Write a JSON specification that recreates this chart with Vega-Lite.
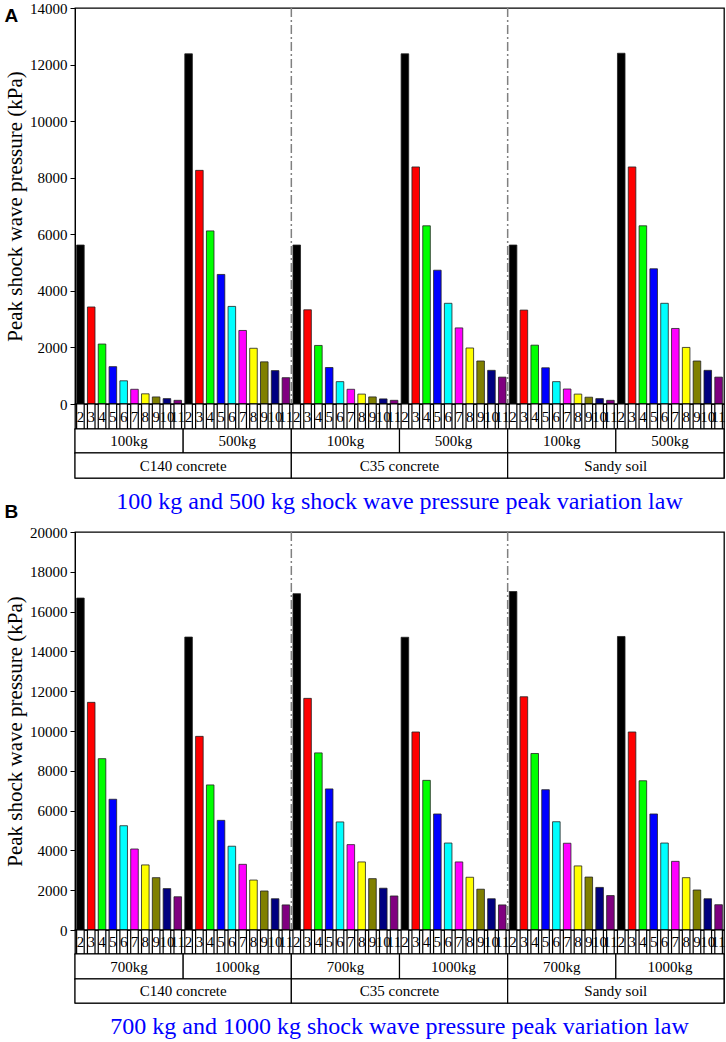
{
  "$schema": "https://vega.github.io/schema/vega-lite/v6.json",
  "padding": {"left": 3, "top": 0, "right": 3, "bottom": 0},
  "bounds": "flush",
  "spacing": 0,
  "config": {
    "font": "Liberation Serif",
    "view": {"stroke": "black", "strokeWidth": 1.3},
    "axis": {"labelFont": "Liberation Serif", "labelFontSize": 15, "labelColor": "black", "titleFont": "Liberation Serif", "titleFontSize": 21, "titleFontWeight": "normal", "titleColor": "black", "domainColor": "black", "tickColor": "black", "tickSize": 5, "grid": false, "labelPadding": 3, "titlePadding": 4, "format": "d"},
    "title": {"font": "Liberation Serif", "fontWeight": "normal", "color": "black"}
  },
  "datasets": {
    "a": [
      {"material":"C140 concrete","charge":"100kg","group":"C140 concrete 100kg","distance":"2","pressure":5620},
      {"material":"C140 concrete","charge":"100kg","group":"C140 concrete 100kg","distance":"3","pressure":3430},
      {"material":"C140 concrete","charge":"100kg","group":"C140 concrete 100kg","distance":"4","pressure":2120},
      {"material":"C140 concrete","charge":"100kg","group":"C140 concrete 100kg","distance":"5","pressure":1320},
      {"material":"C140 concrete","charge":"100kg","group":"C140 concrete 100kg","distance":"6","pressure":820},
      {"material":"C140 concrete","charge":"100kg","group":"C140 concrete 100kg","distance":"7","pressure":520},
      {"material":"C140 concrete","charge":"100kg","group":"C140 concrete 100kg","distance":"8","pressure":360},
      {"material":"C140 concrete","charge":"100kg","group":"C140 concrete 100kg","distance":"9","pressure":250},
      {"material":"C140 concrete","charge":"100kg","group":"C140 concrete 100kg","distance":"10","pressure":190},
      {"material":"C140 concrete","charge":"100kg","group":"C140 concrete 100kg","distance":"11","pressure":130},
      {"material":"C140 concrete","charge":"500kg","group":"C140 concrete 500kg","distance":"2","pressure":12380},
      {"material":"C140 concrete","charge":"500kg","group":"C140 concrete 500kg","distance":"3","pressure":8260},
      {"material":"C140 concrete","charge":"500kg","group":"C140 concrete 500kg","distance":"4","pressure":6120},
      {"material":"C140 concrete","charge":"500kg","group":"C140 concrete 500kg","distance":"5","pressure":4580},
      {"material":"C140 concrete","charge":"500kg","group":"C140 concrete 500kg","distance":"6","pressure":3450},
      {"material":"C140 concrete","charge":"500kg","group":"C140 concrete 500kg","distance":"7","pressure":2600},
      {"material":"C140 concrete","charge":"500kg","group":"C140 concrete 500kg","distance":"8","pressure":1970},
      {"material":"C140 concrete","charge":"500kg","group":"C140 concrete 500kg","distance":"9","pressure":1490},
      {"material":"C140 concrete","charge":"500kg","group":"C140 concrete 500kg","distance":"10","pressure":1180},
      {"material":"C140 concrete","charge":"500kg","group":"C140 concrete 500kg","distance":"11","pressure":930},
      {"material":"C35 concrete","charge":"100kg","group":"C35 concrete 100kg","distance":"2","pressure":5620},
      {"material":"C35 concrete","charge":"100kg","group":"C35 concrete 100kg","distance":"3","pressure":3330},
      {"material":"C35 concrete","charge":"100kg","group":"C35 concrete 100kg","distance":"4","pressure":2070},
      {"material":"C35 concrete","charge":"100kg","group":"C35 concrete 100kg","distance":"5","pressure":1290},
      {"material":"C35 concrete","charge":"100kg","group":"C35 concrete 100kg","distance":"6","pressure":790},
      {"material":"C35 concrete","charge":"100kg","group":"C35 concrete 100kg","distance":"7","pressure":520},
      {"material":"C35 concrete","charge":"100kg","group":"C35 concrete 100kg","distance":"8","pressure":350},
      {"material":"C35 concrete","charge":"100kg","group":"C35 concrete 100kg","distance":"9","pressure":250},
      {"material":"C35 concrete","charge":"100kg","group":"C35 concrete 100kg","distance":"10","pressure":180},
      {"material":"C35 concrete","charge":"100kg","group":"C35 concrete 100kg","distance":"11","pressure":130},
      {"material":"C35 concrete","charge":"500kg","group":"C35 concrete 500kg","distance":"2","pressure":12380},
      {"material":"C35 concrete","charge":"500kg","group":"C35 concrete 500kg","distance":"3","pressure":8380},
      {"material":"C35 concrete","charge":"500kg","group":"C35 concrete 500kg","distance":"4","pressure":6300},
      {"material":"C35 concrete","charge":"500kg","group":"C35 concrete 500kg","distance":"5","pressure":4730},
      {"material":"C35 concrete","charge":"500kg","group":"C35 concrete 500kg","distance":"6","pressure":3560},
      {"material":"C35 concrete","charge":"500kg","group":"C35 concrete 500kg","distance":"7","pressure":2690},
      {"material":"C35 concrete","charge":"500kg","group":"C35 concrete 500kg","distance":"8","pressure":1980},
      {"material":"C35 concrete","charge":"500kg","group":"C35 concrete 500kg","distance":"9","pressure":1520},
      {"material":"C35 concrete","charge":"500kg","group":"C35 concrete 500kg","distance":"10","pressure":1190},
      {"material":"C35 concrete","charge":"500kg","group":"C35 concrete 500kg","distance":"11","pressure":950},
      {"material":"Sandy soil","charge":"100kg","group":"Sandy soil 100kg","distance":"2","pressure":5620},
      {"material":"Sandy soil","charge":"100kg","group":"Sandy soil 100kg","distance":"3","pressure":3320},
      {"material":"Sandy soil","charge":"100kg","group":"Sandy soil 100kg","distance":"4","pressure":2080},
      {"material":"Sandy soil","charge":"100kg","group":"Sandy soil 100kg","distance":"5","pressure":1280},
      {"material":"Sandy soil","charge":"100kg","group":"Sandy soil 100kg","distance":"6","pressure":790},
      {"material":"Sandy soil","charge":"100kg","group":"Sandy soil 100kg","distance":"7","pressure":530},
      {"material":"Sandy soil","charge":"100kg","group":"Sandy soil 100kg","distance":"8","pressure":350},
      {"material":"Sandy soil","charge":"100kg","group":"Sandy soil 100kg","distance":"9","pressure":240},
      {"material":"Sandy soil","charge":"100kg","group":"Sandy soil 100kg","distance":"10","pressure":190},
      {"material":"Sandy soil","charge":"100kg","group":"Sandy soil 100kg","distance":"11","pressure":130},
      {"material":"Sandy soil","charge":"500kg","group":"Sandy soil 500kg","distance":"2","pressure":12400},
      {"material":"Sandy soil","charge":"500kg","group":"Sandy soil 500kg","distance":"3","pressure":8380},
      {"material":"Sandy soil","charge":"500kg","group":"Sandy soil 500kg","distance":"4","pressure":6300},
      {"material":"Sandy soil","charge":"500kg","group":"Sandy soil 500kg","distance":"5","pressure":4780},
      {"material":"Sandy soil","charge":"500kg","group":"Sandy soil 500kg","distance":"6","pressure":3560},
      {"material":"Sandy soil","charge":"500kg","group":"Sandy soil 500kg","distance":"7","pressure":2670},
      {"material":"Sandy soil","charge":"500kg","group":"Sandy soil 500kg","distance":"8","pressure":2000},
      {"material":"Sandy soil","charge":"500kg","group":"Sandy soil 500kg","distance":"9","pressure":1520},
      {"material":"Sandy soil","charge":"500kg","group":"Sandy soil 500kg","distance":"10","pressure":1190},
      {"material":"Sandy soil","charge":"500kg","group":"Sandy soil 500kg","distance":"11","pressure":950}
    ],
    "b": [
      {"material":"C140 concrete","charge":"700kg","group":"C140 concrete 700kg","distance":"2","pressure":16680},
      {"material":"C140 concrete","charge":"700kg","group":"C140 concrete 700kg","distance":"3","pressure":11440},
      {"material":"C140 concrete","charge":"700kg","group":"C140 concrete 700kg","distance":"4","pressure":8610},
      {"material":"C140 concrete","charge":"700kg","group":"C140 concrete 700kg","distance":"5","pressure":6570},
      {"material":"C140 concrete","charge":"700kg","group":"C140 concrete 700kg","distance":"6","pressure":5240},
      {"material":"C140 concrete","charge":"700kg","group":"C140 concrete 700kg","distance":"7","pressure":4070},
      {"material":"C140 concrete","charge":"700kg","group":"C140 concrete 700kg","distance":"8","pressure":3270},
      {"material":"C140 concrete","charge":"700kg","group":"C140 concrete 700kg","distance":"9","pressure":2630},
      {"material":"C140 concrete","charge":"700kg","group":"C140 concrete 700kg","distance":"10","pressure":2080},
      {"material":"C140 concrete","charge":"700kg","group":"C140 concrete 700kg","distance":"11","pressure":1670},
      {"material":"C140 concrete","charge":"1000kg","group":"C140 concrete 1000kg","distance":"2","pressure":14720},
      {"material":"C140 concrete","charge":"1000kg","group":"C140 concrete 1000kg","distance":"3","pressure":9730},
      {"material":"C140 concrete","charge":"1000kg","group":"C140 concrete 1000kg","distance":"4","pressure":7290},
      {"material":"C140 concrete","charge":"1000kg","group":"C140 concrete 1000kg","distance":"5","pressure":5510},
      {"material":"C140 concrete","charge":"1000kg","group":"C140 concrete 1000kg","distance":"6","pressure":4210},
      {"material":"C140 concrete","charge":"1000kg","group":"C140 concrete 1000kg","distance":"7","pressure":3300},
      {"material":"C140 concrete","charge":"1000kg","group":"C140 concrete 1000kg","distance":"8","pressure":2510},
      {"material":"C140 concrete","charge":"1000kg","group":"C140 concrete 1000kg","distance":"9","pressure":1960},
      {"material":"C140 concrete","charge":"1000kg","group":"C140 concrete 1000kg","distance":"10","pressure":1570},
      {"material":"C140 concrete","charge":"1000kg","group":"C140 concrete 1000kg","distance":"11","pressure":1260},
      {"material":"C35 concrete","charge":"700kg","group":"C35 concrete 700kg","distance":"2","pressure":16900},
      {"material":"C35 concrete","charge":"700kg","group":"C35 concrete 700kg","distance":"3","pressure":11640},
      {"material":"C35 concrete","charge":"700kg","group":"C35 concrete 700kg","distance":"4","pressure":8900},
      {"material":"C35 concrete","charge":"700kg","group":"C35 concrete 700kg","distance":"5","pressure":7090},
      {"material":"C35 concrete","charge":"700kg","group":"C35 concrete 700kg","distance":"6","pressure":5430},
      {"material":"C35 concrete","charge":"700kg","group":"C35 concrete 700kg","distance":"7","pressure":4290},
      {"material":"C35 concrete","charge":"700kg","group":"C35 concrete 700kg","distance":"8","pressure":3420},
      {"material":"C35 concrete","charge":"700kg","group":"C35 concrete 700kg","distance":"9","pressure":2580},
      {"material":"C35 concrete","charge":"700kg","group":"C35 concrete 700kg","distance":"10","pressure":2100},
      {"material":"C35 concrete","charge":"700kg","group":"C35 concrete 700kg","distance":"11","pressure":1710},
      {"material":"C35 concrete","charge":"1000kg","group":"C35 concrete 1000kg","distance":"2","pressure":14710},
      {"material":"C35 concrete","charge":"1000kg","group":"C35 concrete 1000kg","distance":"3","pressure":9950},
      {"material":"C35 concrete","charge":"1000kg","group":"C35 concrete 1000kg","distance":"4","pressure":7520},
      {"material":"C35 concrete","charge":"1000kg","group":"C35 concrete 1000kg","distance":"5","pressure":5830},
      {"material":"C35 concrete","charge":"1000kg","group":"C35 concrete 1000kg","distance":"6","pressure":4370},
      {"material":"C35 concrete","charge":"1000kg","group":"C35 concrete 1000kg","distance":"7","pressure":3420},
      {"material":"C35 concrete","charge":"1000kg","group":"C35 concrete 1000kg","distance":"8","pressure":2650},
      {"material":"C35 concrete","charge":"1000kg","group":"C35 concrete 1000kg","distance":"9","pressure":2050},
      {"material":"C35 concrete","charge":"1000kg","group":"C35 concrete 1000kg","distance":"10","pressure":1570},
      {"material":"C35 concrete","charge":"1000kg","group":"C35 concrete 1000kg","distance":"11","pressure":1260},
      {"material":"Sandy soil","charge":"700kg","group":"Sandy soil 700kg","distance":"2","pressure":17010},
      {"material":"Sandy soil","charge":"700kg","group":"Sandy soil 700kg","distance":"3","pressure":11720},
      {"material":"Sandy soil","charge":"700kg","group":"Sandy soil 700kg","distance":"4","pressure":8870},
      {"material":"Sandy soil","charge":"700kg","group":"Sandy soil 700kg","distance":"5","pressure":7050},
      {"material":"Sandy soil","charge":"700kg","group":"Sandy soil 700kg","distance":"6","pressure":5440},
      {"material":"Sandy soil","charge":"700kg","group":"Sandy soil 700kg","distance":"7","pressure":4360},
      {"material":"Sandy soil","charge":"700kg","group":"Sandy soil 700kg","distance":"8","pressure":3220},
      {"material":"Sandy soil","charge":"700kg","group":"Sandy soil 700kg","distance":"9","pressure":2660},
      {"material":"Sandy soil","charge":"700kg","group":"Sandy soil 700kg","distance":"10","pressure":2140},
      {"material":"Sandy soil","charge":"700kg","group":"Sandy soil 700kg","distance":"11","pressure":1730},
      {"material":"Sandy soil","charge":"1000kg","group":"Sandy soil 1000kg","distance":"2","pressure":14750},
      {"material":"Sandy soil","charge":"1000kg","group":"Sandy soil 1000kg","distance":"3","pressure":9950},
      {"material":"Sandy soil","charge":"1000kg","group":"Sandy soil 1000kg","distance":"4","pressure":7500},
      {"material":"Sandy soil","charge":"1000kg","group":"Sandy soil 1000kg","distance":"5","pressure":5830},
      {"material":"Sandy soil","charge":"1000kg","group":"Sandy soil 1000kg","distance":"6","pressure":4370},
      {"material":"Sandy soil","charge":"1000kg","group":"Sandy soil 1000kg","distance":"7","pressure":3450},
      {"material":"Sandy soil","charge":"1000kg","group":"Sandy soil 1000kg","distance":"8","pressure":2630},
      {"material":"Sandy soil","charge":"1000kg","group":"Sandy soil 1000kg","distance":"9","pressure":2010},
      {"material":"Sandy soil","charge":"1000kg","group":"Sandy soil 1000kg","distance":"10","pressure":1570},
      {"material":"Sandy soil","charge":"1000kg","group":"Sandy soil 1000kg","distance":"11","pressure":1270}
    ]
  },
  "resolve": {"scale": {"x": "independent", "y": "independent"}},
  "vconcat": [
    {
      "width": 649, "height": 396,
      "title": {"text": "A", "anchor": "start", "frame": "bounds", "font": "Liberation Sans", "fontSize": 19, "fontWeight": "bold", "offset": -25},
      "data": {"name": "a"},
      "layer": [
        {
          "mark": {"type": "bar", "stroke": "#222222", "strokeWidth": 0.8},
          "encoding": {
            "x": {"field": "group", "type": "nominal", "scale": {"domain": ["C140 concrete 100kg","C140 concrete 500kg","C35 concrete 100kg","C35 concrete 500kg","Sandy soil 100kg","Sandy soil 500kg"], "paddingInner": 0, "paddingOuter": 0}, "axis": null},
            "xOffset": {"field": "distance", "type": "nominal", "scale": {"domain": ["2","3","4","5","6","7","8","9","10","11"], "paddingInner": 0.3, "paddingOuter": 0.15}},
            "y": {"field": "pressure", "type": "quantitative", "scale": {"domain": [0, 14000], "nice": false}, "axis": {"values": [0,2000,4000,6000,8000,10000,12000,14000], "title": "Peak shock wave pressure (kPa)"}},
            "color": {"field": "distance", "type": "nominal", "scale": {"domain": ["2","3","4","5","6","7","8","9","10","11"], "range": ["#000000","#FF0000","#00FF00","#0000FF","#00FFFF","#FF00FF","#FFFF00","#808000","#000080","#800080"]}, "legend": null}
          }
        },
        {
          "transform": [{"filter": "datum.charge == '100kg' && datum.distance == '2' && datum.material != 'C140 concrete'"}],
          "mark": {"type": "rule", "color": "#808080", "strokeDash": [9, 3, 2, 3], "strokeWidth": 1.5},
          "encoding": {"x": {"field": "group", "type": "nominal", "bandPosition": 0}}
        }
      ]
    },
    {
      "width": 649, "height": 25,
      "data": {"name": "a"},
      "encoding": {
        "x": {"field": "group", "type": "nominal", "scale": {"domain": ["C140 concrete 100kg","C140 concrete 500kg","C35 concrete 100kg","C35 concrete 500kg","Sandy soil 100kg","Sandy soil 500kg"], "paddingInner": 0, "paddingOuter": 0}, "axis": null},
        "xOffset": {"field": "distance", "type": "nominal", "scale": {"domain": ["2","3","4","5","6","7","8","9","10","11"], "paddingInner": 0, "paddingOuter": 0}}
      },
      "layer": [
        {"mark": {"type": "bar", "fill": "white", "stroke": "black", "strokeWidth": 1.2}},
        {"mark": {"type": "text", "fontSize": 15, "color": "black", "baseline": "middle"}, "encoding": {"text": {"field": "distance"}}}
      ]
    },
    {
      "width": 649, "height": 24,
      "data": {"name": "a"},
      "transform": [{"aggregate": [{"op": "count", "as": "n"}], "groupby": ["group", "charge"]}],
      "encoding": {
        "x": {"field": "group", "type": "nominal", "scale": {"domain": ["C140 concrete 100kg","C140 concrete 500kg","C35 concrete 100kg","C35 concrete 500kg","Sandy soil 100kg","Sandy soil 500kg"], "paddingInner": 0, "paddingOuter": 0}, "axis": null}
      },
      "layer": [
        {"mark": {"type": "bar", "fill": "white", "stroke": "black", "strokeWidth": 1.2}},
        {"mark": {"type": "text", "fontSize": 15, "color": "black", "baseline": "middle"}, "encoding": {"text": {"field": "charge"}}}
      ]
    },
    {
      "width": 649, "height": 25,
      "title": {"text": "100 kg and 500 kg shock wave pressure peak variation law", "orient": "bottom", "anchor": "middle", "frame": "group", "fontSize": 24, "color": "#0000FF", "offset": 11},
      "data": {"name": "a"},
      "transform": [{"aggregate": [{"op": "count", "as": "n"}], "groupby": ["material"]}],
      "encoding": {
        "x": {"field": "material", "type": "nominal", "scale": {"domain": ["C140 concrete","C35 concrete","Sandy soil"], "paddingInner": 0, "paddingOuter": 0}, "axis": null}
      },
      "layer": [
        {"mark": {"type": "bar", "fill": "white", "stroke": "black", "strokeWidth": 1.2}},
        {"mark": {"type": "text", "fontSize": 15, "color": "black", "baseline": "middle"}, "encoding": {"text": {"field": "material"}}}
      ]
    },
    {
      "width": 649, "height": 54,
      "view": {"stroke": null},
      "data": {"values": []},
      "mark": "point",
      "encoding": {}
    },
    {
      "width": 649, "height": 398,
      "title": {"text": "B", "anchor": "start", "frame": "bounds", "font": "Liberation Sans", "fontSize": 19, "fontWeight": "bold", "offset": 3},
      "data": {"name": "b"},
      "layer": [
        {
          "mark": {"type": "bar", "stroke": "#222222", "strokeWidth": 0.8},
          "encoding": {
            "x": {"field": "group", "type": "nominal", "scale": {"domain": ["C140 concrete 700kg","C140 concrete 1000kg","C35 concrete 700kg","C35 concrete 1000kg","Sandy soil 700kg","Sandy soil 1000kg"], "paddingInner": 0, "paddingOuter": 0}, "axis": null},
            "xOffset": {"field": "distance", "type": "nominal", "scale": {"domain": ["2","3","4","5","6","7","8","9","10","11"], "paddingInner": 0.3, "paddingOuter": 0.15}},
            "y": {"field": "pressure", "type": "quantitative", "scale": {"domain": [0, 20000], "nice": false}, "axis": {"values": [0,2000,4000,6000,8000,10000,12000,14000,16000,18000,20000], "title": "Peak shock wave pressure (kPa)"}},
            "color": {"field": "distance", "type": "nominal", "scale": {"domain": ["2","3","4","5","6","7","8","9","10","11"], "range": ["#000000","#FF0000","#00FF00","#0000FF","#00FFFF","#FF00FF","#FFFF00","#808000","#000080","#800080"]}, "legend": null}
          }
        },
        {
          "transform": [{"filter": "datum.charge == '700kg' && datum.distance == '2' && datum.material != 'C140 concrete'"}],
          "mark": {"type": "rule", "color": "#808080", "strokeDash": [9, 3, 2, 3], "strokeWidth": 1.5},
          "encoding": {"x": {"field": "group", "type": "nominal", "bandPosition": 0}}
        }
      ]
    },
    {
      "width": 649, "height": 24,
      "data": {"name": "b"},
      "encoding": {
        "x": {"field": "group", "type": "nominal", "scale": {"domain": ["C140 concrete 700kg","C140 concrete 1000kg","C35 concrete 700kg","C35 concrete 1000kg","Sandy soil 700kg","Sandy soil 1000kg"], "paddingInner": 0, "paddingOuter": 0}, "axis": null},
        "xOffset": {"field": "distance", "type": "nominal", "scale": {"domain": ["2","3","4","5","6","7","8","9","10","11"], "paddingInner": 0, "paddingOuter": 0}}
      },
      "layer": [
        {"mark": {"type": "bar", "fill": "white", "stroke": "black", "strokeWidth": 1.2}},
        {"mark": {"type": "text", "fontSize": 15, "color": "black", "baseline": "middle"}, "encoding": {"text": {"field": "distance"}}}
      ]
    },
    {
      "width": 649, "height": 25,
      "data": {"name": "b"},
      "transform": [{"aggregate": [{"op": "count", "as": "n"}], "groupby": ["group", "charge"]}],
      "encoding": {
        "x": {"field": "group", "type": "nominal", "scale": {"domain": ["C140 concrete 700kg","C140 concrete 1000kg","C35 concrete 700kg","C35 concrete 1000kg","Sandy soil 700kg","Sandy soil 1000kg"], "paddingInner": 0, "paddingOuter": 0}, "axis": null}
      },
      "layer": [
        {"mark": {"type": "bar", "fill": "white", "stroke": "black", "strokeWidth": 1.2}},
        {"mark": {"type": "text", "fontSize": 15, "color": "black", "baseline": "middle"}, "encoding": {"text": {"field": "charge"}}}
      ]
    },
    {
      "width": 649, "height": 24,
      "title": {"text": "700 kg and 1000 kg shock wave pressure peak variation law", "orient": "bottom", "anchor": "middle", "frame": "group", "fontSize": 24, "color": "#0000FF", "offset": 11},
      "data": {"name": "b"},
      "transform": [{"aggregate": [{"op": "count", "as": "n"}], "groupby": ["material"]}],
      "encoding": {
        "x": {"field": "material", "type": "nominal", "scale": {"domain": ["C140 concrete","C35 concrete","Sandy soil"], "paddingInner": 0, "paddingOuter": 0}, "axis": null}
      },
      "layer": [
        {"mark": {"type": "bar", "fill": "white", "stroke": "black", "strokeWidth": 1.2}},
        {"mark": {"type": "text", "fontSize": 15, "color": "black", "baseline": "middle"}, "encoding": {"text": {"field": "material"}}}
      ]
    }
  ]
}
